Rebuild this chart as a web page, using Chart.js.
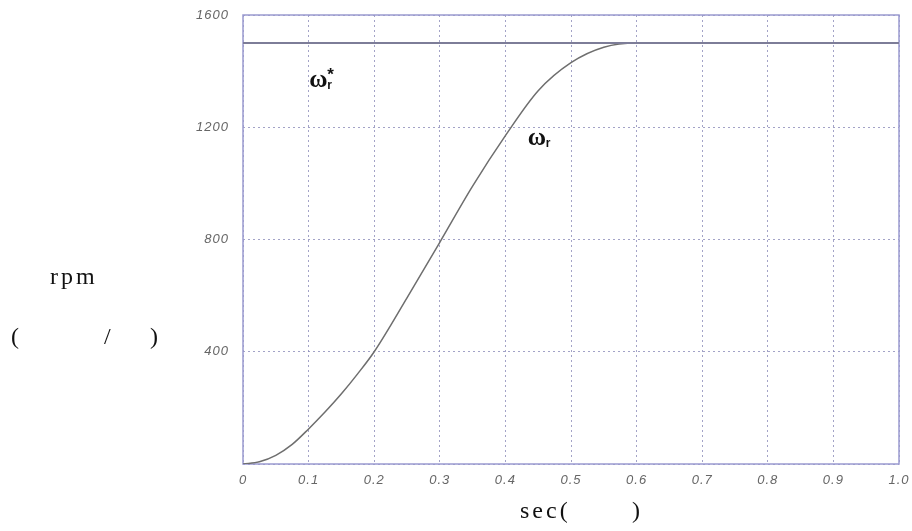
<!DOCTYPE html>
<html>
<head>
<meta charset="utf-8">
<script src="https://cdn.jsdelivr.net/npm/chart.js@4.4.0/dist/chart.umd.min.js"></script>
<style>
  body { margin: 0; background: #fff; }
  #wrap { width: 912px; height: 531px; position: relative; }
</style>
</head>
<body>
<div id="wrap"><canvas id="myChart"></canvas></div>
<script>
// time (sec) and rotor speed (rpm)
var timeSec = [0, 0.025, 0.05, 0.075, 0.1, 0.125, 0.15, 0.175, 0.2, 0.25, 0.3, 0.35, 0.4, 0.45, 0.5, 0.55, 0.6, 0.7, 0.8, 0.9, 1.0];
var speedRpm = [0, 8, 31, 70, 125, 185, 250, 322, 400, 592, 790, 990, 1170, 1330, 1430, 1485, 1500, 1500, 1500, 1500, 1500];
var refTime = [0, 1.0];
var refRpm = [1500, 1500];
var yTicks = [400, 800, 1200, 1600];

var toXY = function (xs, ys) {
    return xs.map(function (x, i) { return { x: x, y: ys[i] }; });
};

// plot frame + omega symbols + axis captions
var textPlugin = {
    id: 'texts',
    beforeUpdate: function (chart) { chart.ctx.letterSpacing = '1px'; },
    beforeDraw: function (chart) { chart.ctx.letterSpacing = '1px'; },
    beforeDatasetsDraw: function (chart) {
        var a = chart.chartArea, ctx = chart.ctx;
        ctx.save();
        ctx.strokeStyle = '#9a9ad0';
        ctx.lineWidth = 1.5;
        ctx.strokeRect(a.left, a.top, a.right - a.left, a.bottom - a.top);
        ctx.restore();
    },
    afterDraw: function (chart) {
        var ctx = chart.ctx;
        var x = chart.scales.x, y = chart.scales.y;
        ctx.save();
        ctx.letterSpacing = '0px';
        ctx.fillStyle = '#111';
        ctx.textBaseline = 'alphabetic';
        // omega_r*
        var px = x.getPixelForValue(0.101), py = y.getPixelForValue(1345);
        ctx.font = 'bold 25px "Liberation Serif"';
        ctx.fillText('\u03c9', px, py);
        ctx.font = 'bold 12px "Liberation Sans"';
        ctx.fillText('r', px + 18, py + 2);
        ctx.font = 'bold 17px "Liberation Sans"';
        ctx.fillText('*', px + 18, py - 7);
        // omega_r
        px = x.getPixelForValue(0.434); py = y.getPixelForValue(1135);
        ctx.font = 'bold 25px "Liberation Serif"';
        ctx.fillText('\u03c9', px, py);
        ctx.font = 'bold 12px "Liberation Sans"';
        ctx.fillText('r', px + 18, py + 2);
        // axis captions
        ctx.font = '24px "Liberation Serif"';
        ctx.letterSpacing = '3px';
        ctx.fillText('rpm', 50, 284);
        ctx.fillText('(', 11, 344);
        ctx.fillText('/', 104, 344);
        ctx.fillText(')', 150, 344);
        ctx.fillText('sec(', 520, 518);
        ctx.fillText(')', 632, 518);
        ctx.restore();
    }
};

var ctx = document.getElementById('myChart').getContext('2d');
var chart = new Chart(ctx, {
    type: 'line',
    data: {
        datasets: [{
            label: 'omega_r*',
            data: toXY(refTime, refRpm),
            borderColor: '#7d7d98',
            borderWidth: 2,
            pointRadius: 0,
            tension: 0
        }, {
            label: 'omega_r',
            data: toXY(timeSec, speedRpm),
            borderColor: '#6e6e6e',
            borderWidth: 1.5,
            pointRadius: 0,
            cubicInterpolationMode: 'monotone'
        }]
    },
    options: {
        responsive: true,
        maintainAspectRatio: false,
        animation: false,
        layout: { padding: { top: 15, right: 13, left: 0, bottom: 0 } },
        plugins: { legend: { display: false }, tooltip: { enabled: false } },
        scales: {
            x: {
                type: 'linear',
                min: 0,
                max: 1.0,
                border: { display: false, dash: [2, 3] },
                grid: { color: 'rgba(140,140,185,0.8)', drawTicks: false },
                ticks: {
                    stepSize: 0.1,
                    padding: 9,
                    color: '#666',
                    font: { family: '"Liberation Sans"', size: 13, style: 'italic' },
                    callback: function (v) { return v === 0 ? '0' : v.toFixed(1); }
                },
                afterFit: function (s) {
                    s.height = 67;
                    s.paddingLeft = 0;
                    s.paddingRight = 0;
                }
            },
            y: {
                min: 0,
                max: 1600,
                border: { display: false, dash: [2, 3] },
                grid: { color: 'rgba(140,140,185,0.8)', drawTicks: false },
                afterBuildTicks: function (s) {
                    s.ticks = [0].concat(yTicks).map(function (v) { return { value: v }; });
                },
                ticks: {
                    padding: 14,
                    color: '#666',
                    font: { family: '"Liberation Sans"', size: 13, style: 'italic' },
                    callback: function (v) { return v === 0 ? '' : v; }
                },
                afterFit: function (s) {
                    s.width = 243;
                    s.paddingTop = 0;
                    s.paddingBottom = 0;
                }
            }
        }
    },
    plugins: [textPlugin]
});
</script>
</body>
</html>
